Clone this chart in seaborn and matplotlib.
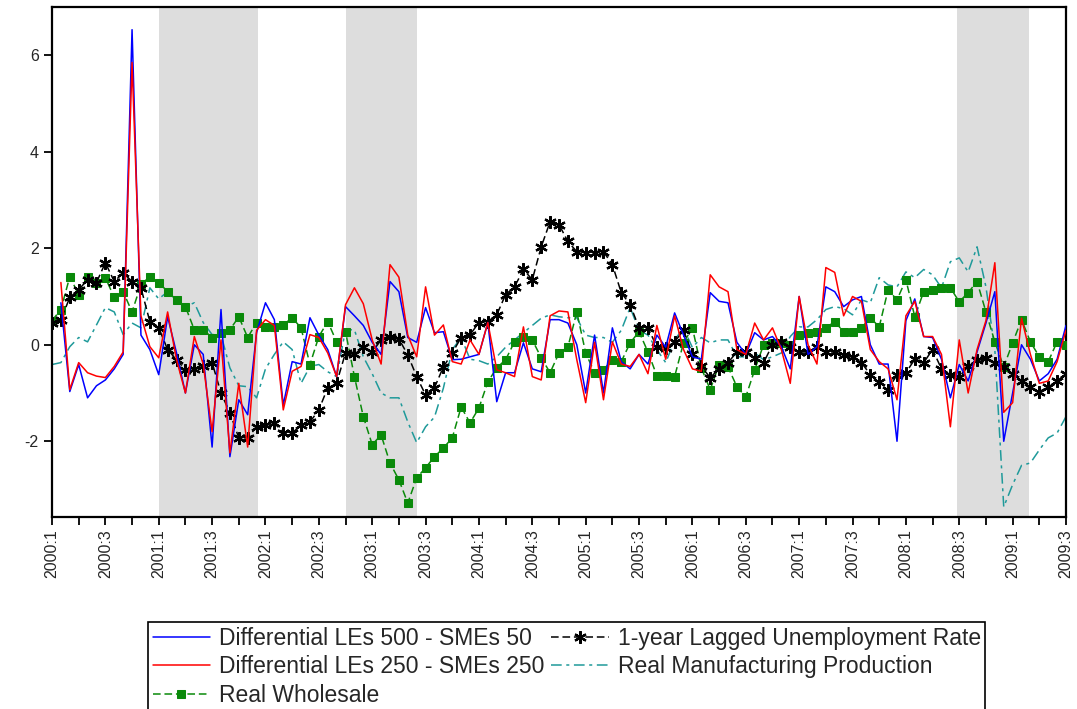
import matplotlib
matplotlib.use("Agg")
import matplotlib.pyplot as plt
import seaborn as sns
import pandas as pd

# ---------------- data (monthly, month 0 = 2000:01) ----------------
months = list(range(0, 115))
months_diff = list(range(1, 115))

unemp_lag = [0.46, 0.52, 0.98, 1.14, 1.35, 1.29, 1.70, 1.31, 1.49, 1.31,
             1.18, 0.48, 0.35, -0.10, -0.31, -0.52, -0.50, -0.45, -0.37, -1.00,
             -1.41, -1.93, -1.93, -1.70, -1.66, -1.62, -1.83, -1.83, -1.66, -1.60,
             -1.35, -0.89, -0.79, -0.17, -0.20, -0.05, -0.15, 0.10, 0.17, 0.12,
             -0.21, -0.66, -1.04, -0.89, -0.46, -0.17, 0.15, 0.21, 0.46, 0.48,
             0.62, 1.04, 1.20, 1.56, 1.35, 2.03, 2.55, 2.49, 2.14, 1.93,
             1.91, 1.91, 1.93, 1.66, 1.08, 0.83, 0.35, 0.35, -0.04, -0.06,
             0.06, 0.30, -0.20, -0.45, -0.68, -0.50, -0.37, -0.15, -0.15, -0.27,
             -0.37, 0.00, 0.06, -0.04, -0.15, -0.15, -0.04, -0.15, -0.15, -0.21,
             -0.25, -0.37, -0.62, -0.77, -0.93, -0.62, -0.58, -0.30, -0.37, -0.10,
             -0.50, -0.62, -0.66, -0.45, -0.32, -0.28, -0.38, -0.47, -0.60, -0.75,
             -0.88, -0.97, -0.88, -0.75, -0.60]

wholesale = [0.50, 0.73, 1.41, 1.04, 1.41, 1.29, 1.39, 0.98, 1.10, 0.68,
             1.25, 1.41, 1.29, 1.10, 0.93, 0.79, 0.31, 0.31, 0.15, 0.25,
             0.31, 0.58, 0.15, 0.46, 0.37, 0.37, 0.41, 0.56, 0.35, -0.41,
             0.17, 0.48, 0.06, 0.27, -0.66, -1.49, -2.07, -1.87, -2.45, -2.80,
             -3.28, -2.76, -2.55, -2.32, -2.14, -1.93, -1.29, -1.62, -1.31, -0.77,
             -0.48, -0.31, 0.06, 0.17, 0.10, -0.27, -0.58, -0.17, -0.05, 0.68,
             -0.17, -0.58, -0.52, -0.31, -0.35, 0.04, 0.27, -0.15, -0.64, -0.64,
             -0.66, 0.04, 0.35, -0.48, -0.93, -0.41, -0.46, -0.87, -1.08, -0.52,
             0.00, 0.04, 0.04, 0.00, 0.21, 0.25, 0.27, 0.35, 0.48, 0.27,
             0.27, 0.35, 0.56, 0.37, 1.14, 0.93, 1.35, 0.58, 1.10, 1.14,
             1.18, 1.18, 0.89, 1.08, 1.31, 0.68, 0.06, -0.46, 0.04, 0.52,
             0.06, -0.25, -0.35, 0.06, 0.00]

manufacturing = [-0.41, -0.37, -0.04, 0.15, 0.06, 0.41, 0.77, 0.68, 0.21, 0.45,
                 0.35, 1.18, 0.95, 1.10, 0.93, 0.79, 0.87, 0.46, 0.21, 0.21,
                 -0.48, -0.85, -0.87, -1.10, -0.50, -0.20, 0.06, -0.10, -0.80, -0.45,
                 -0.41, -0.56, -0.66, 0.31, 0.31, -0.25, -0.60, -1.00, -1.10, -1.10,
                 -1.60, -2.03, -1.70, -1.50, -0.90, -0.10, 0.15, -0.30, -0.33, -0.40,
                 -0.25, -0.05, 0.10, 0.25, 0.40, 0.55, 0.62, 0.58, 0.56, 0.56,
                 0.20, 0.15, 0.15, 0.05, 0.30, 0.77, 0.30, 0.20, -0.10, -0.37,
                 0.10, 0.35, -0.06, 0.15, 0.04, 0.10, 0.10, -0.25, -0.25, -0.17,
                 -0.31, -0.25, -0.17, 0.17, 0.37, 0.37, 0.52, 0.73, 0.79, 0.75,
                 0.62, 0.93, 0.87, 1.39, 1.24, 1.20, 1.51, 1.39, 1.56, 1.45,
                 1.18, 1.72, 1.80, 1.51, 2.03, 1.20, -0.10, -3.36, -2.90, -2.50,
                 -2.45, -2.18, -1.93, -1.83, -1.49]

diff_500_50 = [0.87, -0.97, -0.41, -1.10, -0.85, -0.73, -0.50, -0.20, 6.53, 0.20,
               -0.10, -0.62, 0.58, -0.17, -1.00, 0.00, -0.20, -2.12, 0.73, -2.32,
               -1.14, -1.45, 0.25, 0.87, 0.52, -1.25, -0.35, -0.40, 0.56, 0.20,
               -0.10, -0.66, 0.79, 0.60, 0.40, 0.05, -0.20, 1.31, 1.10, 0.15,
               0.05, 0.77, 0.25, 0.27, -0.31, -0.30, -0.25, -0.20, 0.46, -1.18,
               -0.58, -0.58, 0.04, -0.50, -0.56, 0.52, 0.52, 0.45, 0.00, -1.00,
               0.20, -1.00, 0.35, -0.35, -0.50, -0.20, -0.40, 0.20, -0.05, 0.66,
               0.20, -0.25, -0.30, 1.08, 0.90, 0.87, 0.05, -0.20, 0.25, 0.10,
               0.17, -0.04, -0.50, 1.00, -0.20, -0.04, 1.20, 1.10, 0.79, 0.93,
               1.00, 0.00, -0.40, -0.40, -2.00, 0.50, 0.95, 0.17, 0.15, -0.30,
               -1.10, -0.41, -0.75, -0.15, 0.45, 1.10, -2.00, -1.00, 0.00, -0.30,
               -0.75, -0.60, -0.30, 0.40]

diff_250_250 = [1.29, -0.93, -0.37, -0.58, -0.65, -0.68, -0.45, -0.15, 5.85, 0.60,
                -0.04, -0.27, 0.68, -0.31, -1.00, 0.17, -0.40, -1.80, 0.10, -2.24,
                -0.80, -2.12, 0.30, 0.52, 0.40, -1.35, -0.55, -0.45, 0.21, 0.15,
                -0.17, -0.66, 0.83, 1.18, 0.85, 0.10, -0.40, 1.66, 1.40, 0.20,
                -0.25, 1.20, 0.20, 0.41, -0.35, -0.40, 0.10, -0.20, 0.46, -0.52,
                -0.58, -0.66, 0.37, -0.66, -0.73, 0.60, 0.70, 0.68, -0.31, -1.20,
                0.05, -1.14, 0.06, -0.40, -0.45, -0.20, -0.60, 0.40, -0.30, 0.60,
                -0.10, -0.50, -0.55, 1.45, 1.20, 1.10, -0.10, -0.20, 0.45, 0.10,
                0.35, -0.10, -0.80, 1.00, 0.00, -0.40, 1.60, 1.50, 0.60, 1.00,
                0.90, -0.10, -0.35, -0.50, -1.14, 0.60, 0.90, 0.17, 0.17, -0.20,
                -1.70, 0.10, -1.00, -0.10, 0.50, 1.70, -1.40, -1.20, 0.55, -0.20,
                -0.80, -0.75, -0.35, 0.30]

shade_start = [12.0, 33.0, 101.75]
shade_end = [23.2, 41.0, 109.8]

tick_months = list(range(0, 115, 6))
tick_labels = ["2000:1", "2000:3", "2001:1", "2001:3", "2002:1", "2002:3",
               "2003:1", "2003:3", "2004:1", "2004:3", "2005:1", "2005:3",
               "2006:1", "2006:3", "2007:1", "2007:3", "2008:1", "2008:3",
               "2009:1", "2009:3"]
minor_months = list(range(0, 115, 3))

labels = ["Differential LEs 500 - SMEs 50",
          "Differential LEs 250 - SMEs 250",
          "1-year Lagged Unemployment Rate",
          "Real Manufacturing Production",
          "Real Wholesale"]

# ---------------- style ----------------
sns.set_style("white")
plt.rcParams["font.family"] = ["Liberation Sans", "DejaVu Sans"]
plt.rcParams["axes.unicode_minus"] = False

fig = plt.figure(figsize=(10.77, 7.09), dpi=100)
ax = fig.add_axes([52 / 1077, 1 - 517 / 709, (1066 - 52) / 1077, (517 - 7) / 709])

for s, e in zip(shade_start, shade_end):
    ax.axvspan(s, e, color="#DDDDDD", lw=0, zorder=0)

teal = "#1F9A9A"
green = "#0A8A0A"

sns.lineplot(x=months, y=manufacturing, ax=ax, color=teal, linewidth=1.1,
             linestyle=(0, (7, 3, 2, 3)), label=labels[3], zorder=2)
sns.lineplot(x=months, y=wholesale, ax=ax, color=green, linewidth=1.1,
             linestyle=(0, (5, 2.5)), marker="s", markersize=5.5,
             markeredgecolor=green, markerfacecolor=green, label=labels[4], zorder=3)
sns.lineplot(x=months, y=unemp_lag, ax=ax, color="black", linewidth=1.1,
             linestyle=(0, (5, 2.5)), marker=(6, 2, 0), markersize=9,
             markeredgecolor="black", markeredgewidth=1.6, label=labels[2], zorder=4)
sns.lineplot(x=months_diff, y=diff_500_50, ax=ax, color="#0000FF", linewidth=1.1,
             label=labels[0], zorder=5)
sns.lineplot(x=months_diff, y=diff_250_250, ax=ax, color="#FF0000", linewidth=1.1,
             label=labels[1], zorder=6)

ax.set_xlim(0, 114)
ax.set_ylim(-3.57, 7.0)
ax.set_yticks([-2, 0, 2, 4, 6])
ax.set_xticks(tick_months)
ax.set_xticklabels(tick_labels, rotation=90)
ax.set_xticks(minor_months, minor=True)
ax.tick_params(axis="both", which="both", direction="out", length=6, width=1.3,
               color="black", labelsize=11.5, bottom=True, left=True)
ax.tick_params(axis="x", which="major", pad=3)
ax.set_xlabel("")
ax.set_ylabel("")
for sp in ax.spines.values():
    sp.set_color("black")
    sp.set_linewidth(1.6)

handles, labs = ax.get_legend_handles_labels()
ax.get_legend().remove()
order = [labels[0], labels[1], labels[4], labels[2], labels[3]]
hmap = dict(zip(labs, handles))
leg = fig.legend([hmap[l] for l in order], order, loc="upper left",
                 bbox_to_anchor=(148 / 1077, 1 - 622 / 709), ncol=2,
                 frameon=True, fancybox=False, edgecolor="black", framealpha=1,
                 fontsize=16.5, borderpad=0.2, labelspacing=0.25,
                 handlelength=2.5, handletextpad=0.4, columnspacing=0.3,
                 borderaxespad=0)
leg.get_frame().set_linewidth(1.2)

fig.savefig("out.png", dpi=100)
